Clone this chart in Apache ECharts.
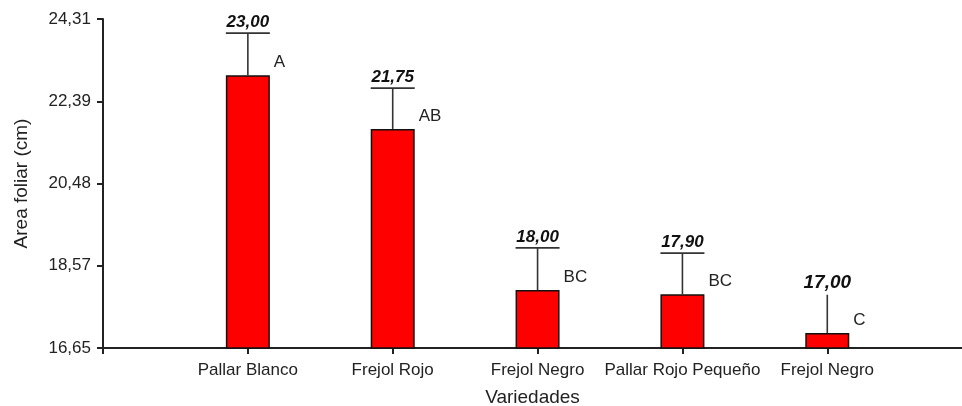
<!DOCTYPE html>
<html>
<head>
<meta charset="utf-8">
<script src="https://cdn.jsdelivr.net/npm/echarts@6/dist/echarts.min.js"></script>
<style>
  html, body { margin: 0; padding: 0; background: #ffffff; }
  #chart { width: 962px; height: 406px; }
</style>
</head>
<body>
<div id="chart"></div>
<script>
// Leaf area per variety: mean, error bar length and significance group
const varieties = ['Pallar Blanco', 'Frejol Rojo', 'Frejol Negro', 'Pallar Rojo Pequeño', 'Frejol Negro'];
const means = [23.00, 21.75, 18.00, 17.90, 17.00];
const errors = [0.98, 0.95, 0.98, 0.96, 0.89];
const groups = ['A', 'AB', 'BC', 'BC', 'C'];
const yTicks = [16.65, 18.57, 20.48, 22.39, 24.31];

const FONT = '"Liberation Sans", Arial, sans-serif';
const TEXT = '#222222';
const BAR_W = 44;
const fmt = v => v.toFixed(2).replace('.', ',');

// each variety sits on an integer slot of a value axis (slot 0 is the y axis)
const slots = varieties.map((_, i) => i + 1);
const barData = slots.map((x, i) => [x, means[i]]);
const errData = slots.map((x, i) => [x, means[i], means[i] + errors[i]]);

const chart = echarts.init(document.getElementById('chart'));

chart.setOption({
  animation: false,
  backgroundColor: '#ffffff',
  grid: { left: 103, right: 0, top: 19, bottom: 58, containLabel: false, outerBoundsMode: 'none' },
  xAxis: {
    type: 'value',
    min: 0,
    max: 5.93,
    name: 'Variedades',
    nameLocation: 'middle',
    nameGap: 40,
    nameTextStyle: { fontFamily: FONT, fontSize: 19, color: TEXT },
    splitLine: { show: false },
    axisLine: { show: true, lineStyle: { color: '#222', width: 2 } },
    axisTick: { show: true, length: 6, customValues: [0].concat(slots), lineStyle: { color: '#222', width: 2 } },
    axisLabel: {
      customValues: slots,
      margin: 14,
      fontFamily: FONT,
      fontSize: 17,
      color: TEXT,
      formatter: v => varieties[Math.round(v) - 1] || ''
    }
  },
  yAxis: {
    type: 'value',
    min: yTicks[0],
    max: yTicks[yTicks.length - 1],
    name: 'Area foliar (cm)',
    nameLocation: 'middle',
    nameGap: 72,
    nameTextStyle: { fontFamily: FONT, fontSize: 19, color: TEXT },
    splitLine: { show: false },
    axisLine: { show: true, lineStyle: { color: '#222', width: 2 } },
    axisTick: { show: true, length: 6, customValues: yTicks, lineStyle: { color: '#222', width: 2 } },
    axisLabel: {
      customValues: yTicks,
      margin: 12,
      fontFamily: FONT,
      fontSize: 17,
      color: TEXT,
      formatter: v => fmt(v)
    }
  },
  series: [
    {
      type: 'bar',
      data: barData,
      barWidth: BAR_W,
      itemStyle: { color: '#ff0000', borderColor: '#111111', borderWidth: 1.5 },
      z: 2
    },
    {
      type: 'custom',
      data: errData,
      clip: false,
      encode: { x: 0, y: [1, 2] },
      z: 3,
      renderItem: (params, api) => {
        const idx = params.dataIndex;
        const last = idx === means.length - 1;
        const base = api.coord([api.value(0), api.value(1)]);
        const top = api.coord([api.value(0), api.value(2)]);
        const half = BAR_W / 2;
        const children = [
          {
            type: 'line',
            shape: { x1: top[0], y1: base[1], x2: top[0], y2: top[1] },
            style: { stroke: '#333', lineWidth: 1.6 }
          },
          {
            type: 'text',
            x: top[0],
            y: top[1] - (last ? 12 : 11),
            style: {
              text: fmt(means[idx]),
              fill: '#111',
              fontFamily: FONT,
              fontSize: last ? 19 : 17,
              fontWeight: 'bold',
              fontStyle: 'italic',
              align: 'center',
              verticalAlign: 'middle'
            }
          },
          {
            type: 'text',
            x: base[0] + half + 4,
            y: base[1] - 13,
            style: {
              text: groups[idx],
              fill: TEXT,
              fontFamily: FONT,
              fontSize: 17,
              align: 'left',
              verticalAlign: 'middle'
            }
          }
        ];
        if (!last) {
          children.push({
            type: 'line',
            shape: { x1: top[0] - half, y1: top[1], x2: top[0] + half, y2: top[1] },
            style: { stroke: '#333', lineWidth: 1.8 }
          });
        }
        return { type: 'group', children };
      }
    }
  ]
});
</script>
</body>
</html>
